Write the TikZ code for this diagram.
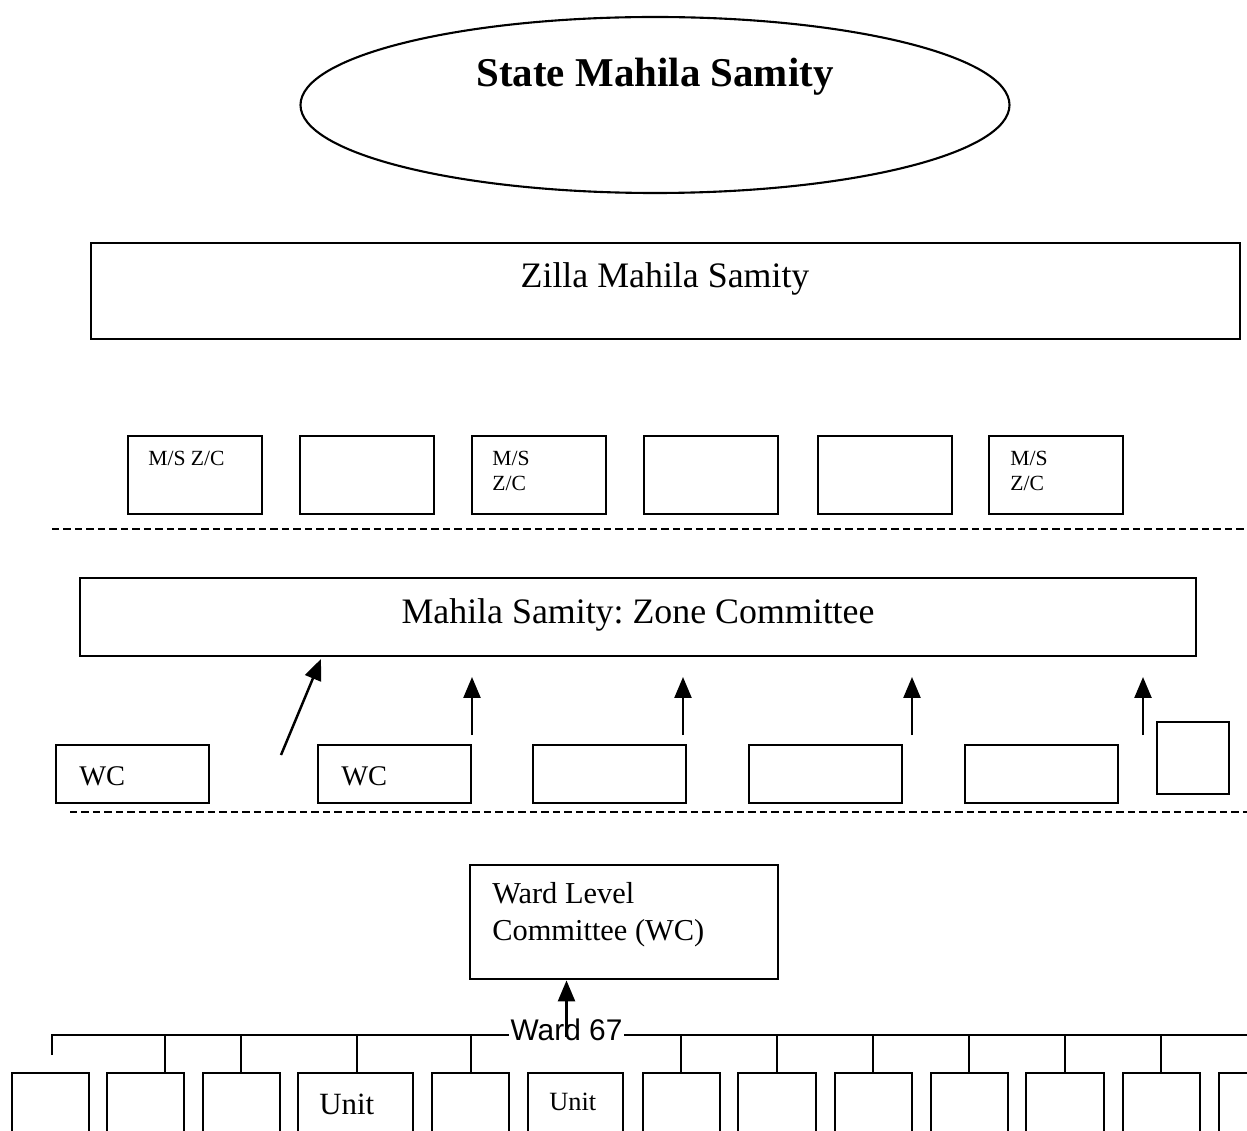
\documentclass[tikz,border=0pt]{standalone}
\usepackage{fontspec}
\setmainfont{Liberation Serif}
\newfontfamily\wardfont{Liberation Sans}
\usetikzlibrary{arrows.meta,calc,fit,shapes.geometric}

\begin{document}
\begin{tikzpicture}[x=0.02cm,y=-0.02cm,>={Triangle[length=0.42cm,width=0.34cm]},
    box/.style={draw, line width=1.6pt, inner sep=0pt},
    arr/.style={->, line width=1.4pt},
    link/.style={line width=1.3pt},
    divider/.style={dash pattern=on 0.15cm off 0.08cm, line width=1.4pt},
    mstext/.style={font=\fontsize{12.3}{14.2}\selectfont, inner sep=0pt, align=left},
    wctext/.style={font=\fontsize{16.2}{20}\selectfont, inner sep=0pt},
    bigtext/.style={font=\fontsize{20.4}{24}\selectfont, inner sep=0pt}]
    \useasboundingbox (0,0) rectangle (1247,1131);
    \clip (0,0) rectangle (1247,1131);

    % state level
    \node[draw, ellipse, line width=1.2pt, inner sep=0pt, minimum width=709*0.02cm, minimum height=176*0.02cm] (state) at (655,105) {};
    \node[font=\fontsize{23.3}{28}\selectfont\bfseries, inner sep=0pt, anchor=base] (statetext) at ($(state.center)+(0,-18)$) {State Mahila Samity};

    % district level
    \node[box, fit={(91,243) (1240,339)}] (zilla) {};
    \node[bigtext, anchor=base] (zillatext) at (665,288) {Zilla Mahila Samity};

    \foreach \i/\x in {1/128,2/300,3/472,4/644,5/818,6/989}
      \node[box, fit={(\x,436) (\x+134,514)}] (ms\i) {};
    \node[mstext, anchor=north west] (mst1) at (148,451) {M/S Z/C};
    \node[mstext, anchor=north west] (mst3) at (492,451) {M/S\\Z/C};
    \node[mstext, anchor=north west] (mst6) at (1010,451) {M/S\\Z/C};

    \draw[divider] (52,529) -- (1247,529);

    % zone level
    \node[box, fit={(80,578) (1196,656)}] (zone) {};
    \node[bigtext, anchor=base] (zonetext) at (638,623) {Mahila Samity:\ Zone Committee};

    \coordinate (d0) at (281,755);
    \coordinate (d1) at (321,659);
    \draw[arr] (d0) -- (d1);
    \foreach \x in {472,683,912,1143} {
      \coordinate (up\x) at (\x,735);
      \draw[arr] (up\x) -- ++(0,-58);
    }

    \foreach \i/\x in {1/56,2/318,3/533,4/749,5/965}
      \node[box, fit={(\x,745) (\x+153,803)}] (wc\i) {};
    \node[box, fit={(1157,722) (1229,794)}] (wc6) {};
    \node[wctext, anchor=base west] (wct1) at (79,785) {WC};
    \node[wctext, anchor=base west] (wct2) at (341,785) {WC};

    \draw[divider] (70,812) -- (1247,812);

    % ward level
    \node[box, fit={(470,865) (778,979)}] (wlc) {};
    \node[font=\fontsize{17.3}{21}\selectfont, inner sep=0pt, align=left, anchor=north west] (wlctext) at (492,882) {Ward Level\\Committee (WC)};

    \coordinate (busl) at (52,1035);
    \coordinate (busr) at (1247,1035);
    \draw[link] (busl) ++(0,20) -- (busl) -- (busr);

    \foreach \i/\x/\w in {1/12/77,2/107/77,3/203/77,4/298/115,5/432/77,6/528/95,7/643/77,
                          8/738/78,9/835/77,10/931/77,11/1026/78,12/1123/77,13/1219/77}
      \node[box, fit={(\x,1073) (\x+\w,1160)}] (u\i) {};
    \foreach \i/\t in {2/165,3/241,4/357,5/471,7/681,8/777,9/873,10/969,11/1065,12/1161} {
      \coordinate (tk\i) at (\t,1035);
      \draw[link] (tk\i) -- (tk\i |- u\i.north);
    }
    \node[font=\fontsize{17.6}{21}\selectfont, inner sep=0pt, anchor=base west] (ut4) at (319,1114) {Unit};
    \node[font=\fontsize{15}{18}\selectfont, inner sep=0pt, anchor=base west] (ut6) at (549,1110) {Unit};

    \node[fill=white, inner xsep=1pt, inner ysep=1pt, font=\wardfont\fontsize{17}{20}\selectfont, anchor=base] (w67) at (566.5,1040) {Ward 67};
    \draw[arr] ($(w67.base)+(0,-3)$) -- (w67.base |- wlc.south);
\end{tikzpicture}
\end{document}
